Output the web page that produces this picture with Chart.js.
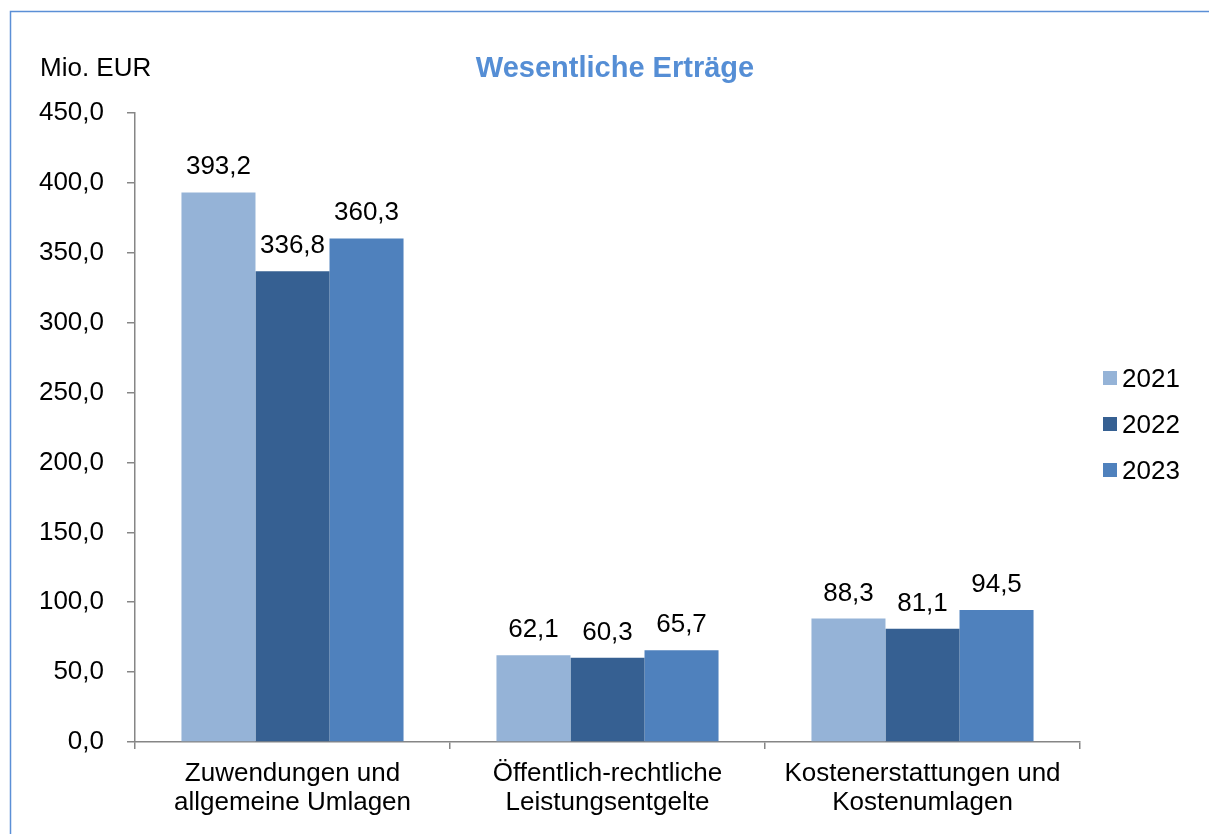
<!DOCTYPE html>
<html>
<head>
<meta charset="utf-8">
<script src="https://cdn.jsdelivr.net/npm/chart.js@4.4.1/dist/chart.umd.min.js"></script>
<style>
  html, body { margin: 0; padding: 0; background: #fff; }
  #wrap { width: 1209px; height: 834px; position: relative; }
</style>
</head>
<body>
<div id="wrap"><canvas id="canvas" width="1209" height="834"></canvas></div>
<script>
// data
var categories = [
  ['Zuwendungen und', 'allgemeine Umlagen'],
  ['Öffentlich-rechtliche', 'Leistungsentgelte'],
  ['Kostenerstattungen und', 'Kostenumlagen']
];
var years = ['2021', '2022', '2023'];
var values2021 = [393.2, 62.1, 88.3];
var values2022 = [336.8, 60.3, 81.1];
var values2023 = [360.3, 65.7, 94.5];
var yTicks = [0, 50, 100, 150, 200, 250, 300, 350, 400, 450];

var colors = ['#95B3D7', '#366092', '#4F81BD'];
var FONT = "'Liberation Sans', Arial, sans-serif";
var AXIS = '#868686';
var FS = 26;

function fmt(v) {
  return v.toFixed(1).replace('.', ',');
}

var extras = {
  id: 'extras',
  beforeDraw: function(chart) {
    var ctx = chart.ctx;
    ctx.save();
    ctx.fillStyle = '#fff';
    ctx.fillRect(0, 0, chart.width, chart.height);
    // outer frame
    ctx.strokeStyle = '#5B8FD6';
    ctx.lineWidth = 1.5;
    ctx.beginPath();
    ctx.moveTo(10.5, chart.height + 2);
    ctx.lineTo(10.5, 11.5);
    ctx.lineTo(chart.width + 2, 11.5);
    ctx.stroke();
    ctx.restore();
  },
  afterDatasetsDraw: function(chart) {
    var ctx = chart.ctx;
    ctx.save();
    // value labels
    ctx.font = FS + 'px ' + FONT;
    ctx.fillStyle = '#000';
    ctx.textAlign = 'center';
    ctx.textBaseline = 'alphabetic';
    chart.data.datasets.forEach(function(ds, di) {
      var meta = chart.getDatasetMeta(di);
      meta.data.forEach(function(bar, i) {
        ctx.fillText(fmt(ds.data[i]), bar.x, bar.y - 18);
      });
    });
    // title
    ctx.font = 'bold 29px ' + FONT;
    ctx.fillStyle = '#558ED5';
    ctx.fillText('Wesentliche Erträge', 615, 77);
    // unit label
    ctx.font = FS + 'px ' + FONT;
    ctx.fillStyle = '#000';
    ctx.textAlign = 'left';
    ctx.fillText('Mio. EUR', 40, 76);
    // legend
    chart.data.datasets.forEach(function(ds, di) {
      var y = 371 + di * 46;
      ctx.fillStyle = ds.backgroundColor;
      ctx.fillRect(1103, y, 14, 14);
      ctx.fillStyle = '#000';
      ctx.fillText(ds.label, 1122, y + 16);
    });
    ctx.restore();
  }
};

var config = {
  type: 'bar',
  data: {
    labels: categories,
    datasets: [
      { label: years[0], data: values2021, backgroundColor: colors[0] },
      { label: years[1], data: values2022, backgroundColor: colors[1] },
      { label: years[2], data: values2023, backgroundColor: colors[2] }
    ]
  },
  options: {
    responsive: false,
    animation: false,
    layout: { padding: { left: 0, top: 113, right: 129, bottom: 0 } },
    datasets: {
      bar: { categoryPercentage: 0.705, barPercentage: 1.0, borderWidth: 0 }
    },
    plugins: {
      legend: { display: false },
      title: { display: false },
      tooltip: { enabled: false }
    },
    scales: {
      x: {
        offset: true,
        grid: {
          offset: true, drawOnChartArea: false, drawTicks: true,
          tickLength: 7, color: AXIS, lineWidth: 1.5
        },
        border: { color: AXIS, width: 1.5 },
        ticks: {
          color: '#000', padding: 10,
          font: { family: FONT, size: FS, lineHeight: 1.12 },
          maxRotation: 0, autoSkip: false
        },
        afterFit: function(scale) { scale.height = 92; }
      },
      y: {
        min: 0, max: 450,
        afterBuildTicks: function(scale) {
          scale.ticks = yTicks.map(function(v) { return { value: v }; });
        },
        grid: {
          drawOnChartArea: false, drawTicks: true,
          tickLength: 8, color: AXIS, lineWidth: 1.5
        },
        border: { color: AXIS, width: 1.5 },
        ticks: {
          color: '#000', padding: 23,
          font: { family: FONT, size: FS },
          callback: function(v) { return fmt(v); }
        },
        afterFit: function(scale) { scale.width = 135; }
      }
    }
  },
  plugins: [extras]
};

window.myBar = new Chart(document.getElementById('canvas'), config);
</script>
</body>
</html>
